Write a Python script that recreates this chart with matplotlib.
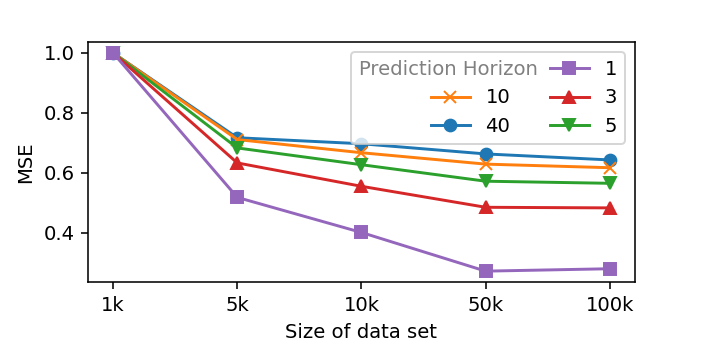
import matplotlib
matplotlib.use('Agg')
import matplotlib.pyplot as plt
from matplotlib.lines import Line2D

sizes = ['1k', '5k', '10k', '50k', '100k']

# MSE per prediction horizon (normalised to 1k)
mse_40 = [1.0, 0.717, 0.697, 0.663, 0.643]
mse_10 = [1.0, 0.711, 0.667, 0.629, 0.617]
mse_5 = [1.0, 0.683, 0.627, 0.572, 0.565]
mse_3 = [1.0, 0.633, 0.555, 0.485, 0.483]
mse_1 = [1.0, 0.518, 0.401, 0.272, 0.280]

fig, ax = plt.subplots(figsize=(5, 2.5), dpi=141.2)
fig.subplots_adjust(left=0.125, right=0.899, top=0.881, bottom=0.201)

x = range(len(sizes))
l40, = ax.plot(x, mse_40, marker='o', label='40')
l10, = ax.plot(x, mse_10, marker='x', label='10')
l5, = ax.plot(x, mse_5, marker='v', label='5')
l3, = ax.plot(x, mse_3, marker='^', label='3')
l1, = ax.plot(x, mse_1, marker='s', label='1')

ax.set_xticks(list(x))
ax.set_xticklabels(sizes)
ax.set_xlabel('Size of data set')
ax.set_ylabel('MSE')

# header entry without a visible handle
dummy = Line2D([], [], linestyle='none')
handles = [dummy, l10, l40, l1, l3, l5]
labels = ['Prediction Horizon', '10', '40', '1', '3', '5']
leg = ax.legend(handles, labels, ncol=2, loc='upper right')
leg.get_texts()[0].set_color('grey')

# right-align the columns and let the header sit flush left
cols = leg._legend_handle_box.get_children()
for col in cols:
    col.align = 'right'
head = cols[0].get_children()[0]
hbox, tbox = head.get_children()
hbox.width = -14
head._children = [tbox, hbox]
head.sep = 0

fig.savefig('out.png', dpi=141.2)
